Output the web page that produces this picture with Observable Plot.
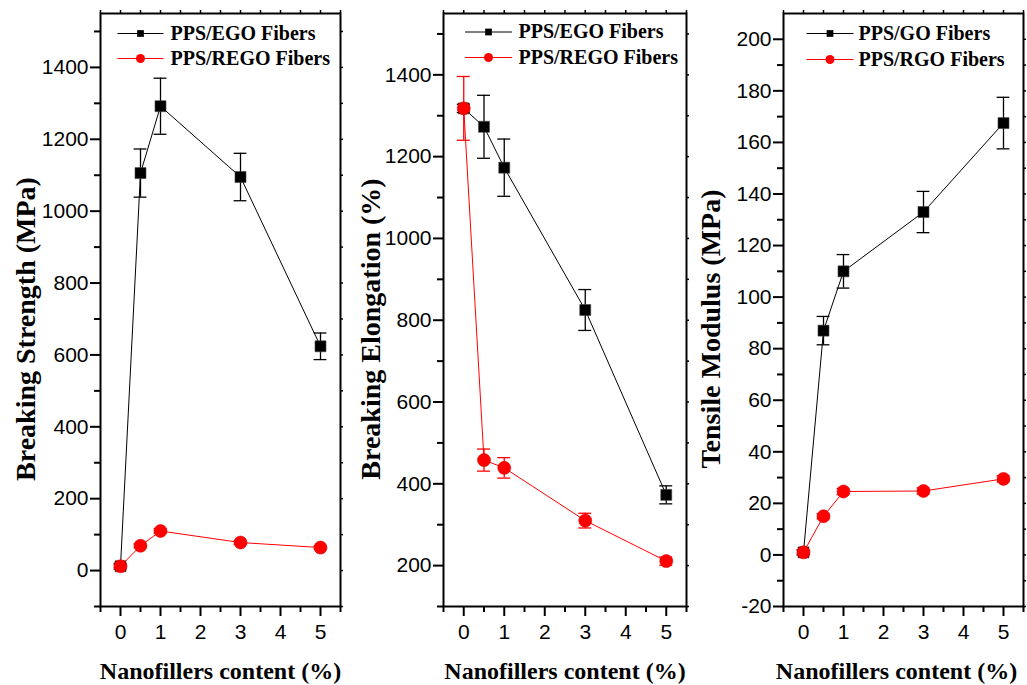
<!DOCTYPE html>
<html><head><meta charset="utf-8">
<script src="https://cdn.jsdelivr.net/npm/d3@7"></script>
<script src="https://cdn.jsdelivr.net/npm/@observablehq/plot@0.6"></script>
<style>
body{margin:0;background:#fff;}
#chart{position:relative;width:1027px;height:685px;overflow:hidden;background:#fff;}
#chart > svg{position:absolute;top:0;}
</style></head><body><div id="chart"></div>
<script>
// ---- data ----
const content = [0, 0.5, 1, 3, 5];
const xMajorTicks = [0, 1, 2, 3, 4, 5];
const xMinorTicks = [-0.5, 0.5, 1.5, 2.5, 3.5, 4.5, 5.5];

const strengthEGO = [12, 1106, 1292, 1095, 624];
const strengthEGOErr = [8, 67, 78, 66, 37];
const strengthREGO = [12, 69, 110, 78, 64];
const strengthREGOErr = [4, 5, 6, 5, 4];
const strengthMajor = [0, 200, 400, 600, 800, 1000, 1200, 1400];
const strengthMinor = [-100, 100, 300, 500, 700, 900, 1100, 1300, 1500];

const elongationEGO = [1318, 1273, 1173, 825, 373];
const elongationEGOErr = [10, 77, 70, 50, 22];
const elongationREGO = [1318, 458, 439, 310, 211];
const elongationREGOErr = [78, 27, 25, 18, 10];
const elongationMajor = [200, 400, 600, 800, 1000, 1200, 1400];
const elongationMinor = [100, 300, 500, 700, 900, 1100, 1300, 1500];

const modulusGO = [1, 87, 110, 133, 167.5];
const modulusGOErr = [1, 5.5, 6.5, 8, 10];
const modulusRGO = [1, 15, 24.6, 24.8, 29.5];
const modulusRGOErr = [0.8, 1, 1.2, 1.2, 1.2];
const modulusMajor = [-20, 0, 20, 40, 60, 80, 100, 120, 140, 160, 180, 200];
const modulusMinor = [-10, 10, 30, 50, 70, 90, 110, 130, 150, 170, 190];

// ---- drawing ----
const serif = "'Liberation Serif', 'Times New Roman', serif";
const HEIGHT = 685, MT = 13, MB = 79;

function panel(cfg) {
  const rows = (ys, es) => content.map((x, i) => ({x, y: ys[i], e: es[i]}));
  const A = rows(cfg.black, cfg.blackErr), B = rows(cfg.red, cfg.redErr);
  const capHalf = 0.16;
  const frameW = cfg.width - cfg.ml - cfg.mr, frameH = HEIGHT - MT - MB;
  const hline = {draw(ctx) { ctx.moveTo(-cfg.legHalf, 0); ctx.lineTo(cfg.legHalf, 0); }};
  const errMarks = (D, color) => [
    Plot.ruleX(D, {x: "x", y1: d => d.y - d.e, y2: d => d.y + d.e, stroke: color, strokeWidth: 1.3}),
    Plot.ruleY(D, {y: d => d.y + d.e, x1: d => d.x - capHalf, x2: d => d.x + capHalf, stroke: color, strokeWidth: 1.3}),
    Plot.ruleY(D, {y: d => d.y - d.e, x1: d => d.x - capHalf, x2: d => d.x + capHalf, stroke: color, strokeWidth: 1.3})
  ];
  const svg = Plot.plot({
    width: cfg.width, height: HEIGHT,
    marginLeft: cfg.ml, marginRight: cfg.mr, marginTop: MT, marginBottom: MB,
    x: {domain: [-0.5, 5.5]},
    y: {domain: cfg.yDomain},
    style: {fontFamily: "'Liberation Sans', Arial, sans-serif", fontSize: "21px", background: "transparent", overflow: "visible", color: "black"},
    marks: [
      Plot.axisX(xMajorTicks, {tickSize: 10, tickPadding: 8, fontSize: 21, tickFormat: d => String(d), label: null, strokeWidth: 2}),
      Plot.axisX(xMinorTicks, {tickSize: 6, tickFormat: () => "", label: null, strokeWidth: 2}),
      Plot.axisY(cfg.yMajor, {tickSize: 10, tickPadding: 2, fontSize: 21, tickFormat: d => String(d), label: null, strokeWidth: 2}),
      Plot.axisY(cfg.yMinor, {tickSize: 6, tickFormat: () => "", label: null, strokeWidth: 2}),
      Plot.tickX(xMajorTicks.concat(xMinorTicks), {x: d => d, insetBottom: frameH, insetTop: -3, stroke: "black", strokeWidth: 1.5}),
      Plot.tickY(cfg.yMajor.concat(cfg.yMinor), {y: d => d, insetLeft: frameW, insetRight: -3, stroke: "black", strokeWidth: 1.5}),
      Plot.frame({stroke: "black", strokeWidth: 2}),
      Plot.line(A, {x: "x", y: "y", stroke: "black", strokeWidth: 1}),
      ...errMarks(A, "black"),
      Plot.dot(A, {x: "x", y: "y", symbol: "square", r: 6.2, fill: "black", stroke: "#444", strokeWidth: 0.6}),
      Plot.line(B, {x: "x", y: "y", stroke: "#ff0000", strokeWidth: 1}),
      ...errMarks(B, "#ff0000"),
      Plot.dot(B, {x: "x", y: "y", symbol: "circle", r: 6.5, fill: "#ff0000", stroke: "#e00000", strokeWidth: 0.6}),
      // legend
      Plot.dot([cfg.legend[0]], {frameAnchor: "top-left", dx: cfg.legX, dy: cfg.legY[0], symbol: hline, stroke: "black", strokeWidth: 1}),
      Plot.dot([cfg.legend[0]], {frameAnchor: "top-left", dx: cfg.legX, dy: cfg.legY[0], symbol: "square", r: 3.8, fill: "black"}),
      Plot.dot([cfg.legend[1]], {frameAnchor: "top-left", dx: cfg.legX, dy: cfg.legY[1], symbol: hline, stroke: "#ff0000", strokeWidth: 1}),
      Plot.dot([cfg.legend[1]], {frameAnchor: "top-left", dx: cfg.legX, dy: cfg.legY[1], symbol: "circle", r: 4.5, fill: "#ff0000"}),
      Plot.text([cfg.legend[0]], {frameAnchor: "top-left", text: d => d, dx: cfg.legText, dy: cfg.legY[0], textAnchor: "start", lineAnchor: "middle", fontFamily: serif, fontWeight: "bold", fontSize: 20, fill: "black"}),
      Plot.text([cfg.legend[1]], {frameAnchor: "top-left", text: d => d, dx: cfg.legText, dy: cfg.legY[1], textAnchor: "start", lineAnchor: "middle", fontFamily: serif, fontWeight: "bold", fontSize: 20, fill: "black"}),
      // axis titles
      Plot.text([cfg.ylabel], {frameAnchor: "left", text: d => d, rotate: -90, dx: cfg.ylabelDx, dy: 19, textAnchor: "middle", lineAnchor: "middle", fontFamily: serif, fontWeight: "bold", fontSize: 28, fill: "black"}),
      Plot.text([cfg.xlabel], {frameAnchor: "bottom", text: d => d, dx: cfg.xlabelDx, dy: 65, textAnchor: "middle", lineAnchor: "middle", fontFamily: serif, fontWeight: "bold", fontSize: 24, fill: "black"})
    ]
  });
  svg.style.left = cfg.left + "px";
  document.getElementById("chart").appendChild(svg);
}

panel({left: 0, width: 345, ml: 100, mr: 5, yDomain: [-100, 1550],
  yMajor: strengthMajor, yMinor: strengthMinor,
  black: strengthEGO, blackErr: strengthEGOErr, red: strengthREGO, redErr: strengthREGOErr,
  legend: ["PPS/EGO Fibers", "PPS/REGO Fibers"], legX: 40, legHalf: 23, legText: 70, legY: [20, 45],
  ylabel: "Breaking Strength (MPa)", ylabelDx: -74, xlabel: "Nanofillers content (%)", xlabelDx: 0});

panel({left: 345, width: 345, ml: 98, mr: 4, yDomain: [100, 1550],
  yMajor: elongationMajor, yMinor: elongationMinor,
  black: elongationEGO, blackErr: elongationEGOErr, red: elongationREGO, redErr: elongationREGOErr,
  legend: ["PPS/EGO Fibers", "PPS/REGO Fibers"], legX: 45, legHalf: 23.5, legText: 75, legY: [18.5, 44],
  ylabel: "Breaking Elongation (%)", ylabelDx: -72, xlabel: "Nanofillers content (%)", xlabelDx: 0});

panel({left: 690, width: 337, ml: 93, mr: 4, yDomain: [-20, 210],
  yMajor: modulusMajor, yMinor: modulusMinor,
  black: modulusGO, blackErr: modulusGOErr, red: modulusRGO, redErr: modulusRGOErr,
  legend: ["PPS/GO Fibers", "PPS/RGO Fibers"], legX: 46.5, legHalf: 23.5, legText: 75, legY: [20, 46],
  ylabel: "Tensile Modulus (MPa)", ylabelDx: -72, xlabel: "Nanofillers content (%)", xlabelDx: -7});
</script></body></html>
